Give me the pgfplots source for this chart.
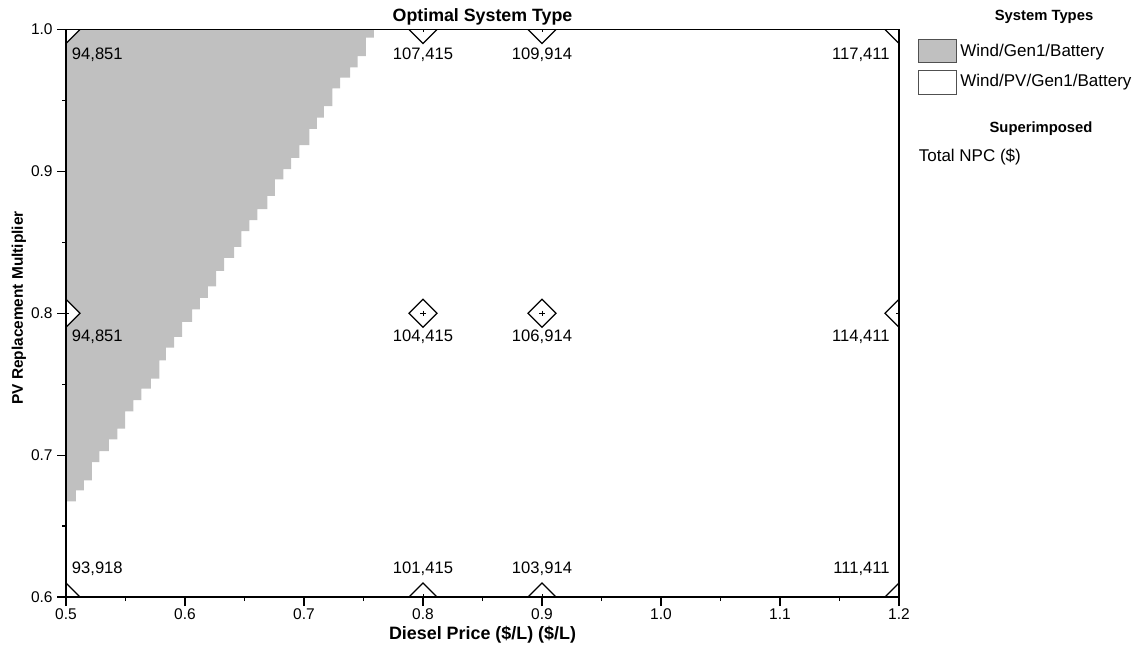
\documentclass[border=0pt]{standalone}
\usepackage{pgfplots}
\pgfplotsset{compat=1.18}
\usepackage{fontspec}
\setmainfont{Liberation Sans}
\definecolor{cellgray}{RGB}{192,192,192}
\definecolor{boxedge}{RGB}{80,80,80}
\begin{document}
\fontsize{8.3}{10}\selectfont
\begin{tikzpicture}
\begin{axis}[
  name=ax,
  scale only axis,
  width=416.5pt, height=283.75pt,
  at={(0pt,0pt)}, anchor=south west,
  xmin=0.5, xmax=1.2, ymin=0.6, ymax=1.0,
  xtick={0.5,0.6,0.7,0.8,0.9,1.0,1.1,1.2},
  ytick={0.6,0.7,0.8,0.9,1.0},
  minor xtick={0.55,0.65,0.75,0.85,0.95,1.05,1.15},
  minor ytick={0.65,0.75,0.85,0.95},
  xticklabels={0.5,0.6,0.7,0.8,0.9,1.0,1.1,1.2},
  yticklabels={0.6,0.7,0.8,0.9,1.0},
  tick align=outside, tick pos=left,
  major tick length=4.5pt, minor tick length=2pt,
  tick style={black, line width=0.6pt},
  axis line style={line width=0.8pt},
  axis on top,
  clip marker paths=true,
  tick label style={font=\fontsize{7.75}{9}\selectfont},
  xticklabel style={inner sep=1pt},
  yticklabel style={inner sep=2pt},
]
\addplot[fill=cellgray, draw=none] coordinates {
(0.5,0.6674)
(0.5084,0.6674)(0.5084,0.6751)
(0.5151,0.6751)(0.5151,0.6822)
(0.5218,0.6822)(0.5218,0.6951)
(0.5280,0.6951)(0.5280,0.7029)
(0.5361,0.7029)(0.5361,0.7111)
(0.5431,0.7111)(0.5431,0.7187)
(0.5496,0.7187)(0.5496,0.7309)
(0.5566,0.7309)(0.5566,0.7387)
(0.5633,0.7387)(0.5633,0.7469)
(0.5714,0.7469)(0.5714,0.7539)
(0.5784,0.7539)(0.5784,0.7668)
(0.5840,0.7668)(0.5840,0.7758)
(0.5908,0.7758)(0.5908,0.7833)
(0.5975,0.7833)(0.5975,0.7939)
(0.6059,0.7939)(0.6059,0.8028)
(0.6126,0.8028)(0.6126,0.8108)
(0.6193,0.8108)(0.6193,0.8190)
(0.6261,0.8190)(0.6261,0.8298)
(0.6328,0.8298)(0.6328,0.8390)
(0.6412,0.8390)(0.6412,0.8468)
(0.6473,0.8468)(0.6473,0.8578)
(0.6540,0.8578)(0.6540,0.8656)
(0.6608,0.8656)(0.6608,0.8734)
(0.6692,0.8734)(0.6692,0.8828)
(0.6756,0.8828)(0.6756,0.8943)
(0.6826,0.8943)(0.6826,0.9016)
(0.6891,0.9016)(0.6891,0.9096)
(0.6961,0.9096)(0.6961,0.9185)
(0.7045,0.9185)(0.7045,0.9300)
(0.7109,0.9300)(0.7109,0.9378)
(0.7168,0.9378)(0.7168,0.9460)
(0.7238,0.9460)(0.7238,0.9585)
(0.7303,0.9585)(0.7303,0.9660)
(0.7387,0.9660)(0.7387,0.9733)
(0.7451,0.9733)(0.7451,0.9813)
(0.7521,0.9813)(0.7521,0.9942)
(0.7588,0.9942)(0.7588,1.0)
(0.5,1.0)
} -- cycle;
\addplot[only marks, mark=square*, mark size=4.95pt,
  mark options={rotate=45, fill=white, draw=black, line width=0.6pt}] coordinates {
(0.5,1.0)(0.8,1.0)(0.9,1.0)(1.2,1.0)
(0.5,0.8)(0.8,0.8)(0.9,0.8)(1.2,0.8)
(0.5,0.6)(0.8,0.6)(0.9,0.6)(1.2,0.6)
};
\addplot[only marks, mark=+, mark size=1.3pt, mark options={line width=0.3pt, black}] coordinates {
(0.5,1.0)(0.8,1.0)(0.9,1.0)(1.2,1.0)
(0.5,0.8)(0.8,0.8)(0.9,0.8)(1.2,0.8)
(0.5,0.6)(0.8,0.6)(0.9,0.6)(1.2,0.6)
};
% value labels
\node[anchor=west, yshift=-12.75pt] at (axis cs:0.5,1.0) {94,851};
\node[yshift=-12.75pt] at (axis cs:0.8,1.0) {107,415};
\node[yshift=-12.75pt] at (axis cs:0.9,1.0) {109,914};
\node[anchor=east, xshift=-1.7pt, yshift=-12.75pt] at (axis cs:1.2,1.0) {117,411};
\node[anchor=west, yshift=-11.75pt] at (axis cs:0.5,0.8) {94,851};
\node[yshift=-11.75pt] at (axis cs:0.8,0.8) {104,415};
\node[yshift=-11.75pt] at (axis cs:0.9,0.8) {106,914};
\node[anchor=east, xshift=-1.7pt, yshift=-11.75pt] at (axis cs:1.2,0.8) {114,411};
\node[anchor=west, yshift=14pt] at (axis cs:0.5,0.6) {93,918};
\node[yshift=14pt] at (axis cs:0.8,0.6) {101,415};
\node[yshift=14pt] at (axis cs:0.9,0.6) {103,914};
\node[anchor=east, xshift=-1.7pt, yshift=14pt] at (axis cs:1.2,0.6) {111,411};
\end{axis}
% titles and axis labels
\node at (208.25pt,290pt) {\fontsize{8.9}{11}\selectfont\bfseries Optimal System Type};
\node at (208.25pt,-19pt) {\fontsize{8.95}{11}\selectfont\bfseries Diesel Price (\$/L) (\$/L)};
\node[rotate=90] at (-23.5pt,144.5pt) {\fontsize{7.7}{9}\selectfont\bfseries PV Replacement Multiplier};
% legend
\node at (489pt,290pt) {\fontsize{7.4}{9}\selectfont\bfseries System Types};
\filldraw[fill=cellgray, draw=boxedge, line width=0.5pt] (426pt,267.15pt) rectangle (445pt,278.85pt);
\node[anchor=west, inner sep=0pt] at (447pt,272.65pt) {\fontsize{8.5}{10}\selectfont Wind/Gen1/Battery};
\filldraw[fill=white, draw=boxedge, line width=0.5pt] (426pt,251pt) rectangle (445pt,263pt);
\node[anchor=west, inner sep=0pt] at (447pt,257.65pt) {\fontsize{8.5}{10}\selectfont Wind/PV/Gen1/Battery};
\node at (487.5pt,234.35pt) {\fontsize{7.4}{9}\selectfont\bfseries Superimposed};
\node[anchor=west, inner sep=0pt] at (426.2pt,220.2pt) {\fontsize{8.5}{10}\selectfont Total NPC (\$)};
\pgfresetboundingbox
\path[use as bounding box] (-33pt,-25.5pt) rectangle (538.5pt,298.5pt);
\end{tikzpicture}
\end{document}
